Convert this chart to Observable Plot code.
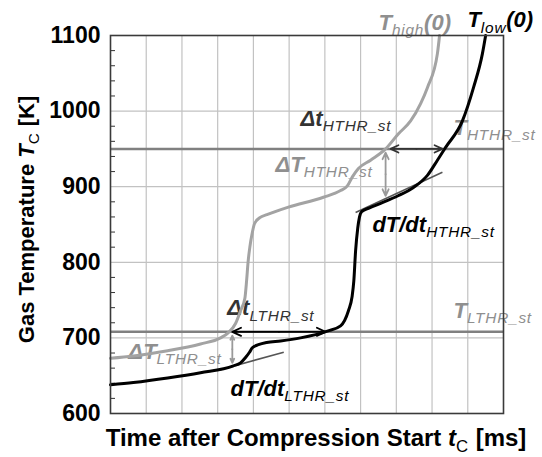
<!DOCTYPE html>
<html>
<head>
<meta charset="utf-8">
<script src="https://cdn.jsdelivr.net/npm/d3@7"></script>
<script src="https://cdn.jsdelivr.net/npm/@observablehq/plot@0.6"></script>
<style>
  body { margin: 0; background: #fff; }
  #chart svg { display: block; }
</style>
</head>
<body>
<div id="chart"></div>
<script>
// Gas temperature after compression start; time in grid divisions, temperature in K.
// Trace started from the higher initial temperature, T_high(0)
const highTime = [0, 0.64, 1.60, 2.52, 3.08, 3.30, 3.50, 3.64, 3.76, 3.81, 3.85, 3.90, 3.96, 4.03, 4.18, 4.38, 4.98, 5.96, 6.44, 6.63, 6.77, 6.94, 7.28, 7.70, 8.06, 8.40, 8.68, 8.87, 9.15, 9.21];
const highTemp = [673, 676, 683, 692, 700, 707, 719, 736, 752, 776, 800, 820, 837, 851, 859, 863, 873, 886, 895, 901, 913, 924, 935, 950, 970, 987, 1010, 1031, 1076, 1100];

// Trace started from the lower initial temperature, T_low(0)
const lowTime = [0, 0.64, 1.60, 2.52, 3.44, 3.64, 3.78, 3.89, 3.97, 4.14, 4.37, 4.76, 5.32, 6.07, 6.44, 6.66, 6.76, 6.81, 6.86, 6.92, 6.97, 7.03, 7.25, 7.56, 8.05, 8.48, 8.87, 9.15, 9.38, 9.85, 10.16, 10.41, 10.50];
const lowTemp = [638, 641, 647, 654, 663, 667, 674, 681, 687, 691, 694, 696, 700, 709, 716, 736, 754, 775, 815, 845, 860, 867, 872, 878, 888, 899, 915, 935, 952, 987, 1031, 1076, 1100];

// Start-of-heat-release thresholds: T_LTHR_st and T_HTHR_st
const thresholdTemps = [708, 950];

// Tangents dT/dt at the start of low- and high-temperature heat release
const tangentTime1 = [3.00, 6.86];
const tangentTemp1 = [657, 866];
const tangentTime2 = [4.85, 9.29];
const tangentTemp2 = [681, 919];

// Double-headed span arrows: Δt_HTHR_st, ΔT_HTHR_st, Δt_LTHR_st, ΔT_LTHR_st
const spanTime1 = [7.84, 7.70, 3.41, 3.41];
const spanTemp1 = [950, 945, 708, 703];
const spanTime2 = [9.29, 7.70, 6.02, 3.41];
const spanTemp2 = [950, 888, 708, 667];
const spanTone = ["dark", "gray", "black", "gray"];

// Axis ticks and grid
const tempTicks = [600, 700, 800, 900, 1000, 1100];
const minorTempTicks = [620, 640, 660, 680, 720, 740, 760, 780, 820, 840, 860, 880, 920, 940, 960, 980, 1020, 1040, 1060, 1080];
const timeGrid = [1, 2, 3, 4, 5, 6, 7, 8, 9, 10];
const tempGrid = [700, 800, 900, 1000];

// Labels ("*x*" = italic, "_{x}" = subscript)
const labelText = ["T_{high}(0)", "T_{low}(0)", "Δt_{HTHR_st}", "T_{HTHR_st}", "ΔT_{HTHR_st}", "dT/dt_{HTHR_st}", "Δt_{LTHR_st}", "T_{LTHR_st}", "ΔT_{LTHR_st}", "dT/dt_{LTHR_st}"];
const labelTime = [7.50, 9.99, 5.32, 9.60, 4.62, 7.33, 3.27, 9.60, 0.50, 3.36];
const labelTemp = [1117, 1120, 990, 978, 929, 850, 739, 736, 682, 633];
const labelTone = ["gray", "black", "dark", "gray", "gray", "black", "dark", "gray", "gray", "black"];

const yTitle = "Gas Temperature *T*_{C} [K]";
const xTitle = "Time after Compression Start *t*_{C} [ms]";

const tones = {gray: "#8f8f8f", dark: "#333333", black: "#000000"};

const W = 542, H = 457;
const margin = {left: 110, right: 39, top: 35, bottom: 44};
const frameWidth = W - margin.left - margin.right;

const high = highTime.map((t, i) => ({t, temp: highTemp[i]}));
const low = lowTime.map((t, i) => ({t, temp: lowTemp[i]}));
const tangents = tangentTime1.map((t, i) => ({t1: t, y1: tangentTemp1[i], t2: tangentTime2[i], y2: tangentTemp2[i]}));
const labels = labelText.map((text, i) => ({text, t: labelTime[i], temp: labelTemp[i], tone: labelTone[i]}));

// Each span arrow is drawn as two halves pointing outward from its midpoint
const halves = [];
spanTime1.forEach((t1, i) => {
  const tm = (t1 + spanTime2[i]) / 2, ym = (spanTemp1[i] + spanTemp2[i]) / 2;
  halves.push({x1: tm, y1: ym, x2: t1, y2: spanTemp1[i], tone: spanTone[i]});
  halves.push({x1: tm, y1: ym, x2: spanTime2[i], y2: spanTemp2[i], tone: spanTone[i]});
});

const labelMarks = Object.keys(tones).map(tone =>
  Plot.text(labels.filter(d => d.tone === tone), {
    x: "t", y: "temp", text: "text", textAnchor: "start",
    fill: tones[tone], fontSize: 22, fontWeight: "bold", fontStyle: "italic"
  })
);
const arrowMarks = Object.keys(tones).map(tone =>
  Plot.arrow(halves.filter(d => d.tone === tone), {
    x1: "x1", y1: "y1", x2: "x2", y2: "y2",
    stroke: tone === "gray" ? "#9a9a9a" : tones[tone],
    strokeWidth: 1.8, headLength: 8, headAngle: 50
  })
);

const chart = Plot.plot({
  width: W,
  height: H,
  marginLeft: margin.left,
  marginRight: margin.right,
  marginTop: margin.top,
  marginBottom: margin.bottom,
  style: {fontFamily: "'Liberation Sans', Arial, sans-serif", background: "#fff", color: "#000"},
  x: {domain: [0, 11], axis: null},
  y: {domain: [600, 1100], axis: null},
  marks: [
    Plot.ruleX(timeGrid, {stroke: "#c2c2c2", strokeWidth: 1.2}),
    Plot.ruleY(tempGrid, {stroke: "#c2c2c2", strokeWidth: 1.2}),
    Plot.ruleY(thresholdTemps, {stroke: "#808080", strokeWidth: 2.5}),
    Plot.tickY(minorTempTicks, {y: d => d, stroke: "#333", strokeWidth: 1, insetRight: frameWidth - 5}),
    ...labelMarks,
    Plot.link(tangents, {x1: "t1", y1: "y1", x2: "t2", y2: "y2", stroke: "#555", strokeWidth: 1.6}),
    Plot.line(high, {x: "t", y: "temp", stroke: "#a3a3a3", strokeWidth: 3, curve: "monotone-x"}),
    Plot.line(low, {x: "t", y: "temp", stroke: "#000", strokeWidth: 3, curve: "monotone-x"}),
    ...arrowMarks,
    Plot.frame({stroke: "#3a3a3a", strokeWidth: 1.6}),
    Plot.axisY(tempTicks, {tickSize: 0, tickPadding: 10, fontSize: 23, fontWeight: "bold", tickFormat: d => String(d), label: null}),
    Plot.text([yTitle], {text: d => d, frameAnchor: "left", textAnchor: "middle", lineAnchor: "middle", rotate: -90, dx: -84, dy: -5, fontSize: 22, fontWeight: "bold", fill: "#000"}),
    Plot.text([xTitle], {text: d => d, frameAnchor: "bottom", textAnchor: "middle", lineAnchor: "middle", dx: 9, dy: 25, fontSize: 24, fontWeight: "bold", fill: "#000"})
  ]
});

// Turn "*x*" and "_{x}" markup into italic and subscript tspans
function richText(svg) {
  const ns = "http://www.w3.org/2000/svg";
  svg.querySelectorAll("text").forEach(el => {
    const s = el.textContent;
    if (!/_\{|\*/.test(s)) return;
    const parts = s.split(/(\*[^*]+\*|_\{[^}]*\})/).filter(p => p);
    el.textContent = "";
    let lowered = false;
    for (const p of parts) {
      const ts = document.createElementNS(ns, "tspan");
      if (p.startsWith("_{")) {
        ts.textContent = p.slice(2, -1);
        ts.setAttribute("font-size", "0.7em");
        ts.setAttribute("font-weight", "normal");
        ts.setAttribute("dy", "0.35em");
        ts.setAttribute("letter-spacing", "0.05em");
        lowered = true;
      } else {
        if (p.startsWith("*")) {
          ts.textContent = p.slice(1, -1);
          ts.setAttribute("font-style", "italic");
        } else {
          ts.textContent = p;
        }
        if (lowered) { ts.setAttribute("dy", "-0.245em"); lowered = false; }
      }
      el.appendChild(ts);
    }
  });
}
richText(chart);
document.getElementById("chart").appendChild(chart);
</script>
</body>
</html>
